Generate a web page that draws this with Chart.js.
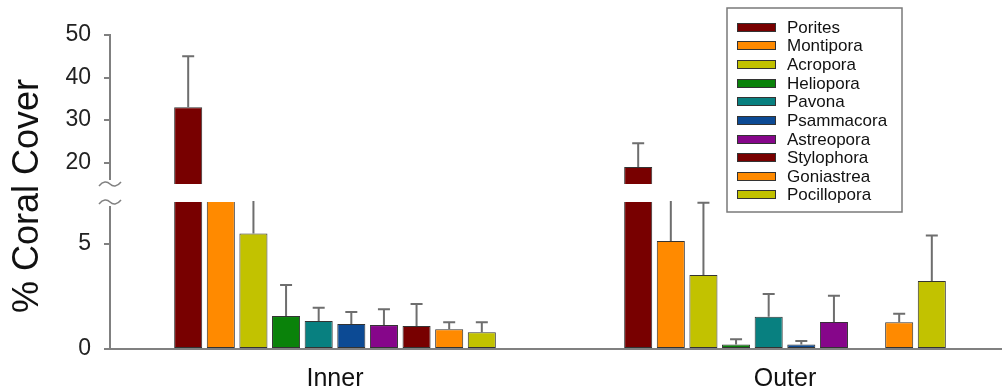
<!DOCTYPE html>
<html>
<head>
<meta charset="utf-8">
<script src="https://cdn.jsdelivr.net/npm/chart.js@4"></script>
<style>
  html, body { margin: 0; padding: 0; overflow: hidden; background: #fff; }
  #wrap { position: relative; width: 1002px; height: 388px; overflow: hidden; }
  canvas { position: absolute; left: 0; top: 0; }
</style>
</head>
<body>
<div id="wrap">
  <canvas id="lowerChart" width="1010" height="388"></canvas>
  <canvas id="upperChart" width="1010" height="388"></canvas>
</div>
<script>
const categories = ['Inner', 'Outer'];
const species = ['Porites', 'Montipora', 'Acropora', 'Heliopora', 'Pavona',
  'Psammacora', 'Astreopora', 'Stylophora', 'Goniastrea', 'Pocillopora'];
const innerCover = [33, 10.5, 5.5, 1.57, 1.33, 1.19, 1.14, 1.1, 0.94, 0.8];
const innerSE = [12, 2.5, 2.5, 1.48, 0.64, 0.57, 0.75, 1.04, 0.33, 0.47];
const outerCover = [19, 5.14, 3.52, 0.22, 1.54, 0.22, 1.29, null, 1.27, 3.24];
const outerSE = [5.6, 2.6, 3.45, 0.24, 1.08, 0.16, 1.25, null, 0.41, 2.17];
const upperTicks = [20, 30, 40, 50];
const lowerTicks = [0, 5];

const colors = ['#780000', '#ff8a00', '#c2c200', '#0a820a', '#088080',
  '#0c4a94', '#86068a', '#780000', '#ff8a00', '#c2c200'];
const FONT = 'Arial, "Liberation Sans", sans-serif';
const AXIS = '#808080';

function makeDatasets() {
  return species.map((name, i) => ({
    label: name,
    data: [innerCover[i], outerCover[i]],
    errors: [innerSE[i], outerSE[i]],
    backgroundColor: colors[i],
    borderColor: '#333',
    borderWidth: 1,
    borderSkipped: false,
    categoryPercentage: 0.725,
    barPercentage: 0.86,
    clip: 0
  }));
}

function yScale(min, max, ticks) {
  return {
    min: min,
    max: max,
    afterFit: s => { s.width = 110; },
    afterBuildTicks: s => { s.ticks = ticks.map(v => ({ value: v })); },
    border: { color: AXIS, width: 2 },
    grid: { drawOnChartArea: false, drawTicks: true, tickLength: 6, color: AXIS, lineWidth: 2 },
    ticks: { color: '#222', padding: 13, font: { size: 23, family: FONT } }
  };
}

// error bars, clipped to each chart's area
const errorBars = {
  id: 'errorBars',
  afterDatasetsDraw(chart) {
    const { ctx, chartArea: a } = chart;
    const y = chart.scales.y;
    ctx.save();
    ctx.beginPath();
    ctx.rect(a.left, a.top - 1, a.right - a.left, a.bottom - a.top + 1);
    ctx.clip();
    ctx.strokeStyle = '#6e6e6e';
    ctx.lineWidth = 2;
    chart.data.datasets.forEach((ds, i) => {
      chart.getDatasetMeta(i).data.forEach((bar, j) => {
        const v = ds.data[j], e = ds.errors[j];
        if (v == null || e == null) return;
        const y0 = y.getPixelForValue(v);
        const y1 = y.getPixelForValue(v + e);
        ctx.beginPath();
        ctx.moveTo(bar.x, y0);
        ctx.lineTo(bar.x, y1);
        ctx.moveTo(bar.x - 6, y1);
        ctx.lineTo(bar.x + 6, y1);
        ctx.stroke();
      });
    });
    ctx.restore();
  }
};

// squiggle marking the broken axis
const axisBreak = {
  id: 'axisBreak',
  afterDraw(chart, args, opts) {
    const { ctx, chartArea: a } = chart;
    const x = a.left, y = opts.edge === 'top' ? a.top : a.bottom;
    ctx.save();
    ctx.fillStyle = '#fff';
    ctx.fillRect(x - 12, y - 4, 24, 8);
    ctx.strokeStyle = AXIS;
    ctx.lineWidth = 1.5;
    ctx.beginPath();
    ctx.moveTo(x - 11, y + 2);
    ctx.bezierCurveTo(x - 7, y - 3, x - 3, y - 3, x, y);
    ctx.bezierCurveTo(x + 3, y + 3, x + 7, y + 3, x + 11, y - 2);
    ctx.stroke();
    ctx.restore();
  }
};

const legendBox = {
  id: 'legendBox',
  afterDraw(chart) {
    const ctx = chart.ctx;
    ctx.save();
    ctx.fillStyle = '#fff';
    ctx.fillRect(727, 8, 175, 204);
    ctx.strokeStyle = '#7a7a7a';
    ctx.lineWidth = 1.5;
    ctx.strokeRect(727, 8, 175, 204);
    ctx.font = '17px ' + FONT;
    ctx.textBaseline = 'middle';
    chart.data.datasets.forEach((ds, i) => {
      const cy = Math.round(26.7 + i * 18.64);
      ctx.fillStyle = ds.backgroundColor;
      ctx.fillRect(737, cy - 4, 39, 9);
      ctx.strokeStyle = '#333';
      ctx.lineWidth = 1;
      ctx.strokeRect(737.5, cy - 3.5, 38, 8);
      ctx.fillStyle = '#111';
      ctx.fillText(ds.label, 787, cy + 1);
    });
    ctx.restore();
  }
};

const yTitle = {
  id: 'yTitle',
  afterDraw(chart) {
    const ctx = chart.ctx;
    ctx.save();
    ctx.translate(28, 196);
    ctx.rotate(-Math.PI / 2);
    ctx.font = '36px ' + FONT;
    ctx.fillStyle = '#111';
    ctx.textAlign = 'center';
    ctx.textBaseline = 'middle';
    ctx.fillText('% Coral Cover', 0, 0);
    ctx.restore();
  }
};

const lowerChart = new Chart(document.getElementById('lowerChart'), {
  type: 'bar',
  data: { labels: categories, datasets: makeDatasets() },
  options: {
    responsive: false,
    animation: false,
    layout: { padding: { top: 202, left: 0, right: 0, bottom: 0 } },
    scales: {
      x: {
        afterFit: s => { s.height = 39; },
        grid: { display: false },
        border: { color: AXIS, width: 2 },
        ticks: { color: '#111', padding: 7, font: { size: 25, family: FONT } }
      },
      y: yScale(0, 7, lowerTicks)
    },
    plugins: {
      legend: { display: false },
      tooltip: { enabled: false },
      axisBreak: { edge: 'top' }
    }
  },
  plugins: [errorBars, axisBreak]
});

const upperChart = new Chart(document.getElementById('upperChart'), {
  type: 'bar',
  data: { labels: categories, datasets: makeDatasets() },
  options: {
    responsive: false,
    animation: false,
    layout: { padding: { top: 35, left: 0, right: 0, bottom: 204 } },
    scales: {
      x: { display: false },
      y: yScale(15, 50, upperTicks)
    },
    plugins: {
      legend: { display: false },
      tooltip: { enabled: false },
      axisBreak: { edge: 'bottom' }
    }
  },
  plugins: [errorBars, axisBreak, legendBox, yTitle]
});
</script>
</body>
</html>
